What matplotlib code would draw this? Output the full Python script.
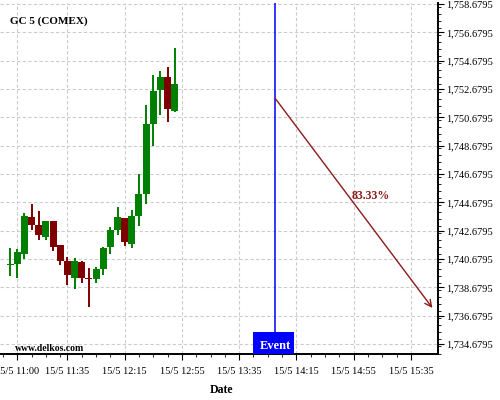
import matplotlib
matplotlib.use('Agg')
import matplotlib.pyplot as plt
from matplotlib.patches import Rectangle
from matplotlib.ticker import FixedLocator, MultipleLocator, FuncFormatter

# dados dos candles (15/5), intervalo de 5 min
times = ['10:55', '11:00', '11:05', '11:10', '11:15', '11:20', '11:25', '11:30',
         '11:35', '11:40', '11:45', '11:50', '11:55', '12:00', '12:05', '12:10',
         '12:15', '12:20', '12:25', '12:30', '12:35', '12:40', '12:45', '12:50']
opens = [1740.26, 1740.33, 1741.03, 1743.64, 1743.08, 1742.23, 1743.36, 1741.67,
         1740.54, 1739.34, 1740.47, 1739.34, 1739.27, 1739.97, 1741.53, 1742.73,
         1743.57, 1741.74, 1743.71, 1745.27, 1750.21, 1752.61, 1753.53, 1751.13]
highs = [1741.46, 1741.39, 1743.93, 1744.56, 1744.07, 1743.36, 1743.36, 1741.67,
         1740.82, 1740.75, 1740.54, 1740.04, 1740.11, 1741.53, 1742.94, 1744.35,
         1743.57, 1744.14, 1746.68, 1751.55, 1753.67, 1753.95, 1754.23, 1755.57]
lows = [1739.48, 1739.34, 1740.68, 1742.73, 1742.02, 1742.02, 1741.24, 1740.26,
        1738.84, 1738.56, 1738.99, 1737.29, 1738.99, 1739.55, 1741.03, 1742.37,
        1741.60, 1741.46, 1743.01, 1744.56, 1748.66, 1750.84, 1750.35, 1751.06]
closes = [1740.31, 1741.17, 1743.71, 1743.08, 1742.37, 1743.36, 1741.53, 1740.54,
          1739.55, 1740.54, 1739.34, 1739.27, 1739.97, 1741.46, 1742.73, 1743.64,
          1741.88, 1743.71, 1745.27, 1750.21, 1752.54, 1753.53, 1751.27, 1753.03]

event_time = '14:00'
proj_start = ('14:00', 1752.04)
proj_end = ('15:50', 1737.22)
proj_label = '83.33%'

xtick_times = ['11:00', '11:35', '12:15', '12:55', '13:35', '14:15', '14:55', '15:35']
ytick_values = [1734.6795, 1736.6795, 1738.6795, 1740.6795, 1742.6795, 1744.6795,
                1746.6795, 1748.6795, 1750.6795, 1752.6795, 1754.6795, 1756.6795,
                1758.6795]


def to_min(t):
    h, m = t.split(':')
    return (int(h) - 11) * 60 + int(m)


plt.rcParams['font.family'] = ['Liberation Serif', 'DejaVu Serif']

fig = plt.figure(figsize=(5, 4), dpi=100)
ax = fig.add_axes([0.0, 0.115, 0.876, 0.8775])

GREEN = '#008000'
RED = '#800000'
body_w = 4.9

for t, o, h, l, c in zip(times, opens, highs, lows, closes):
    x = to_min(t)
    col = GREEN if c >= o else RED
    ax.vlines(x, l, h, color=col, linewidth=1.4, zorder=3)
    bottom = min(o, c)
    height = max(abs(c - o), 0.06)
    ax.add_patch(Rectangle((x - body_w / 2, bottom), body_w, height,
                           facecolor=col, edgecolor='none', zorder=4))

# linha do evento
ex = to_min(event_time)
ax.axvline(ex, color='#0000FF', linewidth=1.1, zorder=5)
ax.add_patch(Rectangle((164.6, 1733.97), 28.7, 1.56, facecolor='#0000FF',
                       edgecolor='none', zorder=6))
ax.text(ex, 1734.5, 'Event', color='white', fontsize=9, fontweight='bold',
        ha='center', va='center', zorder=7)

# seta de projeção
ax.annotate('', xy=(to_min(proj_end[0]), proj_end[1]),
            xytext=(to_min(proj_start[0]), proj_start[1]),
            arrowprops=dict(arrowstyle='->', color='#8B1A1A', lw=1.0,
                            mutation_scale=12, shrinkA=0, shrinkB=0), zorder=6)
ax.text(233.5, 1745.1, proj_label, color='#8B1A1A', fontsize=8.5,
        fontweight='bold', ha='left', va='center')

ax.set_xlim(-12.1, 293.9)
ax.set_ylim(1733.97, 1758.75)

ax.xaxis.set_major_locator(FixedLocator([to_min(t) for t in xtick_times]))
ax.set_xticklabels(['15/5 ' + t for t in xtick_times], fontsize=7.5)
minor_x = []
for t in xtick_times[:-1] + ['16:15']:
    m0 = to_min(t)
    minor_x += [m0 + 10, m0 + 20, m0 + 30]
minor_x += [-10]
ax.xaxis.set_minor_locator(FixedLocator(minor_x))

ax.yaxis.tick_right()
ax.yaxis.set_major_locator(FixedLocator(ytick_values))
ax.yaxis.set_major_formatter(FuncFormatter(lambda v, p: f'{v:,.4f}'))
ax.yaxis.set_minor_locator(MultipleLocator(0.5))
ax.tick_params(axis='y', which='major', labelsize=7.5, length=4, width=0.8, pad=2)
ax.tick_params(axis='y', which='minor', length=2, width=0.6)
ax.tick_params(axis='x', which='major', length=4, width=0.8, pad=5)
ax.tick_params(axis='x', which='minor', length=2, width=0.6)

ax.grid(True, which='major', color='#cccccc', linestyle=(0, (3, 2)), linewidth=0.8)
ax.set_axisbelow(True)

for side in ('left', 'top'):
    ax.spines[side].set_visible(False)
ax.spines['right'].set_linewidth(1.4)
ax.spines['bottom'].set_linewidth(1.4)

fig.text(0.02, 0.948, 'GC 5 (COMEX)', fontsize=8, fontweight='bold',
         ha='left', va='center')
fig.text(0.03, 0.128, 'www.delkos.com', fontsize=7, fontweight='bold',
         ha='left', va='center')
fig.text(0.442, 0.025, 'Date', fontsize=8.5, fontweight='bold',
         ha='center', va='center')

fig.savefig('out.png', dpi=100)
